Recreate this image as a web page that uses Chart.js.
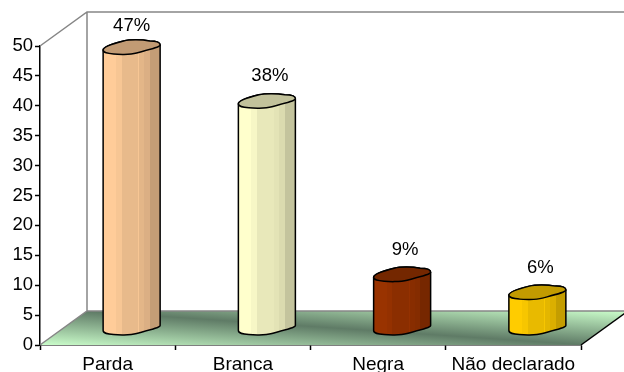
<!DOCTYPE html>
<html>
<head>
<meta charset="utf-8">
<title>Cor ou raça</title>
<style>
  html, body { margin: 0; padding: 0; background: #fff; }
  canvas { display: block; }
</style>
<script src="https://cdn.jsdelivr.net/npm/chart.js@4"></script>
</head>
<body>
<canvas id="grafico" width="624" height="372"></canvas>
<script>
// ==== Dados ====
const categorias = ["Parda", "Branca", "Negra", "Não declarado"];
const percentuais = [47, 38, 9, 6];
const coresBarras = ["#FFCC99", "#FFFFCC", "#993300", "#FFCC00"];
const marcasEixoY = [0, 5, 10, 15, 20, 25, 30, 35, 40, 45, 50];

// ==== Aparência ====
const FONTE = '"Liberation Sans", Arial, sans-serif';
const TAM_FONTE = 18.5;
const TAM_FONTE_X = 19;
const PROF_X = 47, PROF_Y = -34;      // profundidade do piso e das paredes
const DESL_X = 24, DESL_Y = -17;      // barras ficam no meio do piso
const LARGURA_BARRA = 57;
// faixas verticais do cilindro: [início, fator de brilho]
const faixas = [[0, 1], [.23, .97], [.33, .91], [.62, .97], [.63, .89], [.72, .86], [.82, .77], [1, .77]];

function escurecer(hex, f) {
  const n = parseInt(hex.slice(1), 16);
  const r = Math.round((n >> 16 & 255) * f);
  const g = Math.round((n >> 8 & 255) * f);
  const b = Math.round((n & 255) * f);
  return `rgb(${r},${g},${b})`;
}

function gradienteBarra(ctx, cx, cor) {
  const g = ctx.createLinearGradient(cx - LARGURA_BARRA / 2, 0, cx + LARGURA_BARRA / 2, 0);
  faixas.forEach((fx, i) => {
    g.addColorStop(fx[0], escurecer(cor, fx[1]));
    if (i < faixas.length - 1) g.addColorStop(faixas[i + 1][0], escurecer(cor, fx[1]));
  });
  return g;
}

// borda inferior da tampa, da direita para a esquerda
function curvaFrente(ctx, x, y) {
  ctx.bezierCurveTo(x + 28.5, y, x + 20, y + 2, x + 5, y + 6);
  ctx.bezierCurveTo(x - 2, y + 8, x - 14, y + 7.5, x - 18, y + 7);
  ctx.bezierCurveTo(x - 24, y + 6.5, x - 28.5, y + 6, x - 28.5, y + 3);
}

// borda superior da tampa, da esquerda para a direita
function curvaFundo(ctx, x, y) {
  ctx.bezierCurveTo(x - 28.5, y, x - 20, y - 3, x - 8, y - 6);
  ctx.bezierCurveTo(x - 2, y - 7.5, x + 10, y - 7.5, x + 18, y - 6);
  ctx.bezierCurveTo(x + 24, y - 6, x + 28.5, y - 5, x + 28.5, y - 2);
}

function tracarBarra(ctx, el) {
  ctx.moveTo(el.x - 28.5, el.y + 3);
  curvaFundo(ctx, el.x, el.y);
  ctx.lineTo(el.x + 28.5, el.base - 2);
  curvaFrente(ctx, el.x, el.base);
  ctx.closePath();
}

// Piso e paredes em perspectiva, desenhados a partir das escalas
const cenario3d = {
  id: "cenario3d",
  beforeDatasetsDraw(chart) {
    const { ctx, scales: { x, y } } = chart;
    const esq = x.left, dir = x.right, base = y.getPixelForValue(0), topo = y.getPixelForValue(50);

    ctx.save();
    const cx = (esq + dir + PROF_X) / 2, cy = base + PROF_Y / 2;
    const grad = ctx.createLinearGradient(cx - 2.5, cy + 37, cx + 2.5, cy - 37);
    grad.addColorStop(0, "#CCFFCC");
    grad.addColorStop(.5, "#5F7B66");
    grad.addColorStop(1, "#CCFFCC");
    ctx.beginPath();
    ctx.moveTo(esq, base);
    ctx.lineTo(dir, base);
    ctx.lineTo(dir + PROF_X, base + PROF_Y);
    ctx.lineTo(esq + PROF_X, base + PROF_Y);
    ctx.closePath();
    ctx.fillStyle = grad;
    ctx.fill();

    ctx.lineWidth = 1.5;
    ctx.strokeStyle = "#868686";
    ctx.beginPath();
    ctx.moveTo(esq, base);
    ctx.lineTo(esq + PROF_X, base + PROF_Y);
    ctx.lineTo(dir + PROF_X, base + PROF_Y);
    ctx.moveTo(esq, topo);
    ctx.lineTo(esq + PROF_X, topo + PROF_Y);
    ctx.lineTo(dir + PROF_X, topo + PROF_Y);
    ctx.moveTo(esq + PROF_X, topo + PROF_Y);
    ctx.lineTo(esq + PROF_X, base + PROF_Y);
    ctx.stroke();

    ctx.strokeStyle = "#000";
    ctx.beginPath();
    ctx.moveTo(dir, base);
    ctx.lineTo(dir + PROF_X, base + PROF_Y);
    ctx.stroke();
    ctx.restore();
  },
  beforeDatasetDraw(chart, args) {
    const { ctx } = chart;
    ctx.save();
    ctx.translate(DESL_X, DESL_Y);
    // parte de baixo do cilindro, abaixo do retângulo da barra
    const barras = chart.getDatasetMeta(args.index).data;
    barras.forEach((el, i) => {
      ctx.beginPath();
      tracarBarra(ctx, el);
      ctx.fillStyle = gradienteBarra(ctx, el.x, coresBarras[i]);
      ctx.fill();
    });
    ctx.beginPath();
    barras.forEach(el => tracarBarra(ctx, el));
    ctx.clip();
  },
  afterDatasetDraw(chart, args) {
    const { ctx } = chart;
    ctx.restore();
    ctx.save();
    ctx.translate(DESL_X, DESL_Y);
    ctx.lineWidth = 1.5;
    ctx.strokeStyle = "#000";
    ctx.lineJoin = "round";
    chart.getDatasetMeta(args.index).data.forEach((el, i) => {
      ctx.beginPath();
      tracarBarra(ctx, el);
      ctx.stroke();
      // tampa
      ctx.beginPath();
      ctx.moveTo(el.x - 28.5, el.y + 3);
      curvaFundo(ctx, el.x, el.y);
      curvaFrente(ctx, el.x, el.y);
      ctx.closePath();
      ctx.fillStyle = escurecer(coresBarras[i], .76);
      ctx.fill();
      ctx.stroke();
    });
    ctx.restore();
  },
  afterDatasetsDraw(chart) {
    const { ctx } = chart;
    ctx.save();
    ctx.font = `${TAM_FONTE}px ${FONTE}`;
    ctx.fillStyle = "#000";
    ctx.textAlign = "center";
    ctx.textBaseline = "middle";
    chart.getDatasetMeta(0).data.forEach((el, i) => {
      const yTexto = el.y + DESL_Y - 24.5;
      // rótulo que bateria no topo da área fica preso em y = 26
      const preso = yTexto < 26;
      ctx.fillText(percentuais[i] + "%", el.x + DESL_X + (preso ? 0 : 3), preso ? 26 : yTexto);
    });
    ctx.restore();
  }
};

new Chart(document.getElementById("grafico"), {
  type: "bar",
  plugins: [cenario3d],
  data: {
    labels: categorias,
    datasets: [{
      data: percentuais,
      barThickness: LARGURA_BARRA,
      borderWidth: 0,
      backgroundColor: c => {
        const cor = coresBarras[c.dataIndex] || coresBarras[0];
        const cx = c.chart.scales.x.getPixelForValue(c.dataIndex);
        // na primeira passada a escala ainda não tem posição
        return Number.isFinite(cx) ? gradienteBarra(c.chart.ctx, cx, cor) : cor;
      }
    }]
  },
  options: {
    responsive: false,
    animation: false,
    layout: { autoPadding: false, padding: { top: 46, right: 43, left: 0, bottom: 0 } },
    plugins: { legend: { display: false }, tooltip: { enabled: false } },
    scales: {
      x: {
        afterFit: s => { s.height = 27; },
        border: { color: "#000", width: 1.5 },
        grid: { drawOnChartArea: false, tickColor: "#000", tickLength: 5, tickWidth: 1.5 },
        ticks: { color: "#000", font: { family: FONTE, size: TAM_FONTE_X }, padding: 3, maxRotation: 0 }
      },
      y: {
        min: 0,
        max: 50,
        afterFit: s => { s.width = 40; },
        afterBuildTicks: s => { s.ticks = marcasEixoY.map(v => ({ value: v })); },
        border: { color: "#000", width: 1.5 },
        grid: { drawOnChartArea: false, tickColor: "#000", tickLength: 5, tickWidth: 1.5 },
        ticks: { color: "#000", font: { family: FONTE, size: TAM_FONTE }, padding: 2 }
      }
    }
  }
});
</script>
</body>
</html>
